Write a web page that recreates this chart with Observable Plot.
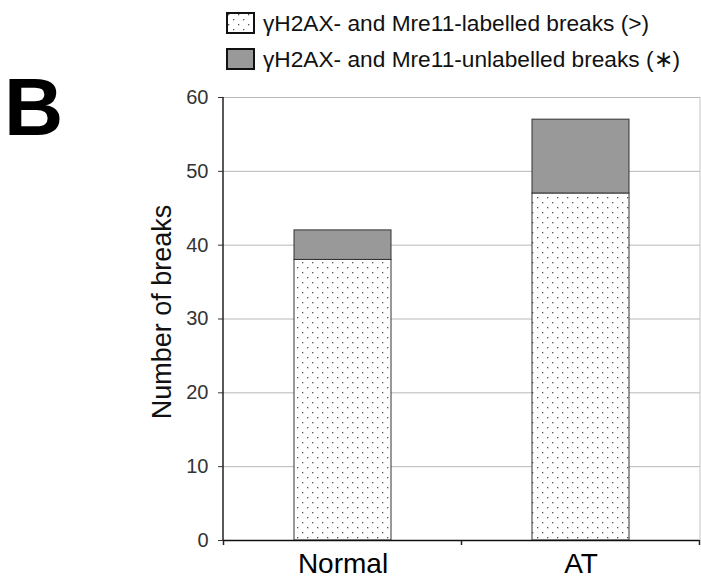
<!DOCTYPE html>
<html><head><meta charset="utf-8">
<script src="https://cdn.jsdelivr.net/npm/d3@7"></script>
<script src="https://cdn.jsdelivr.net/npm/@observablehq/plot@0.6"></script>
<style>
body{margin:0;background:#fff;font-family:"Liberation Sans",Arial,sans-serif;}
#wrap{position:relative;width:701px;height:579px;overflow:hidden;}
#letter{position:absolute;left:4px;top:66px;font-size:82px;font-weight:bold;line-height:1;color:#000;}
.leg{position:absolute;left:226px;height:22px;display:flex;align-items:center;font-size:22.7px;line-height:22px;color:#111;white-space:nowrap;}
.leg svg{margin-right:8px;flex:none;}
</style></head><body>
<div id="wrap"><div id="chart"></div><div id="letter"></div><div id="legend"></div></div>
<script>
const panelLetter = "B";
const categories = ["Normal", "AT"];
const series = ["\u03B3H2AX- and Mre11-labelled breaks (>)", "\u03B3H2AX- and Mre11-unlabelled breaks (\u2217)"];
const labelled = [38, 47];
const unlabelled = [4, 10];
const yTicks = [0, 10, 20, 30, 40, 50, 60];
const yLabel = "Number of breaks";
const seriesFills = ["url(#dots)", "#999999"];

const rows = categories.flatMap((c, i) => [
  {category: c, series: series[0], value: labelled[i]},
  {category: c, series: series[1], value: unlabelled[i]}
]);

const chart = Plot.plot({
  width: 701, height: 579,
  marginLeft: 223, marginRight: 1, marginTop: 97, marginBottom: 39,
  style: {fontFamily: "Liberation Sans, Arial, sans-serif", background: "white", overflow: "visible"},
  x: {domain: categories, paddingInner: 0.593, paddingOuter: 0.2965, label: null},
  y: {domain: [0, 60], label: null},
  color: {domain: series, range: seriesFills},
  marks: [
    Plot.gridY(yTicks, {stroke: "#b8b8b8", strokeOpacity: 1}),
    Plot.barY(rows, {x: "category", y: "value", fill: "series", stroke: "#333", strokeWidth: 1}),
    Plot.ruleY([0], {stroke: "#111", strokeWidth: 1.5}),
    Plot.axisY(yTicks, {tickSize: 5, tickPadding: 10, fontSize: 20, color: "#333", label: null}),
    Plot.axisX({tickSize: 0, tickPadding: 13, fontSize: 28, color: "#000", label: null}),
    Plot.text([yLabel], {frameAnchor: "left", textAnchor: "middle", rotate: -90, dx: -61, dy: -7, fontSize: 27, fill: "#111", lineAnchor: "middle"})
  ]
});
document.getElementById("chart").appendChild(chart);

const svg = d3.select(chart);
const defs = svg.insert("defs", ":first-child");
const pat = defs.append("pattern").attr("id", "dots").attr("patternUnits", "userSpaceOnUse").attr("width", 10).attr("height", 10);
pat.append("rect").attr("width", 10).attr("height", 10).attr("fill", "#fff");
pat.append("rect").attr("x", 2).attr("y", 2).attr("width", 1.3).attr("height", 1.3).attr("fill", "#555");
pat.append("rect").attr("x", 7).attr("y", 7).attr("width", 1.3).attr("height", 1.3).attr("fill", "#555");

const sx = chart.scale("x"), sy = chart.scale("y");
const y0 = sy.apply(0), yTop = sy.apply(60);
const g = svg.append("g");
g.append("line").attr("x1", sx.range[0]).attr("x2", sx.range[0]).attr("y1", yTop).attr("y2", y0).attr("stroke", "#222").attr("stroke-width", 1.5);
g.append("line").attr("x1", sx.range[1]).attr("x2", sx.range[1]).attr("y1", yTop).attr("y2", y0).attr("stroke", "#c4c4c4");
const gap = (sx.step - sx.bandwidth) / 2;
const bounds = categories.map(c => sx.apply(c) - gap).concat([sx.apply(categories[categories.length - 1]) - gap + sx.step]);
bounds.forEach(b => g.append("line").attr("x1", b).attr("x2", b).attr("y1", y0).attr("y2", y0 + 5).attr("stroke", "#222").attr("stroke-width", 1.5));

document.getElementById("letter").textContent = panelLetter;
const leg = document.getElementById("legend");
series.forEach((s, i) => {
  const row = document.createElement("div");
  row.className = "leg";
  row.style.top = (12 + i * 36) + "px";
  row.innerHTML = `<svg width="29" height="22"><rect x="1" y="1" width="27" height="20" fill="${seriesFills[i]}" stroke="#111" stroke-width="2"/></svg><span></span>`;
  row.querySelector("span").textContent = s;
  leg.appendChild(row);
});
</script>
</body></html>
